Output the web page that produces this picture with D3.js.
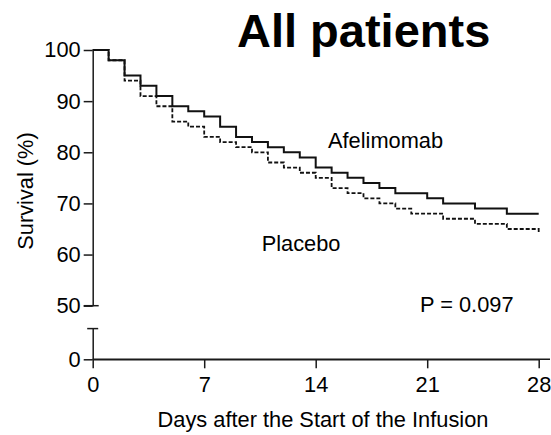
<!DOCTYPE html>
<html>
<head>
<meta charset="utf-8">
<script src="https://cdn.jsdelivr.net/npm/d3@7"></script>
<style>
  html, body { margin: 0; padding: 0; background: #fff; }
  svg { display: block; }
  text { font-family: "Liberation Sans", Arial, Helvetica, sans-serif; fill: #000; }
</style>
</head>
<body>
<svg id="chart" width="551" height="435"></svg>
<script>
// ---- data ----
const title = "All patients";
const xLabel = "Days after the Start of the Infusion";
const yLabel = "Survival (%)";
const xTicks = [0, 7, 14, 21, 28];
const yTicksUpper = [50, 60, 70, 80, 90, 100];
const yTicksLower = [0];

// Kaplan-Meier step data (day, survival %)
const afelimomabDays = [0, 1, 2, 3, 4, 5, 6, 7, 8, 9, 10, 11, 12, 13, 14, 15, 16, 17, 18, 19, 21, 22, 24, 26, 28];
const afelimomabSurv = [100, 98, 95, 93, 91, 89, 88, 87, 85, 83, 82, 81, 80, 79, 77, 76, 75, 74, 73, 72, 71, 70, 69, 68, 68];

const placeboDays = [0, 1, 2, 3, 4, 5, 6, 7, 8, 9, 10, 11, 12, 13, 14, 15, 16, 17, 18, 19, 20, 22, 24, 26, 28];
const placeboSurv = [100, 98, 94, 91, 89, 86, 85, 83, 82, 81, 80, 78, 77, 76, 75, 73, 72, 71, 70, 69, 68, 67, 66, 65, 64];

const seriesNames = ["Afelimomab", "Placebo"];
const pValueText = "P = 0.097";

// ---- layout ----
const svg = d3.select("#chart");
const font = 21.8;

const x = d3.scaleLinear().domain([0, 28]).range([92.7, 538.7]);
const yU = d3.scaleLinear().domain([50, 100]).range([305.7, 50]);
const yL = d3.scaleLinear().domain([0, 6]).range([359.3, 328.6]);

const axisColor = "#1a1a1a";
const axisW = 1.5;
const fmt = d3.format("d");

// upper y axis
const gU = svg.append("g").attr("transform", `translate(${x(0)},0)`)
  .call(d3.axisLeft(yU).tickValues(yTicksUpper).tickFormat(fmt).tickSize(9).tickSizeOuter(0).tickPadding(3));
// lower y axis
const gL = svg.append("g").attr("transform", `translate(${x(0)},0)`)
  .call(d3.axisLeft(yL).tickValues(yTicksLower).tickFormat(fmt).tickSize(9).tickSizeOuter(0).tickPadding(3));
// x axis
const gX = svg.append("g").attr("transform", `translate(0,${yL(0)})`)
  .call(d3.axisBottom(x).tickValues(xTicks).tickFormat(fmt).tickSize(9).tickSizeOuter(0).tickPadding(5));

[gU, gL, gX].forEach(g => {
  g.selectAll("path.domain").attr("stroke", axisColor).attr("stroke-width", axisW);
  g.selectAll(".tick line").attr("stroke", axisColor).attr("stroke-width", axisW);
  g.selectAll(".tick text").style("font-size", font + "px")
    .style("font-family", '"Liberation Sans", Arial, sans-serif').attr("fill", "#000");
});
gX.selectAll(".tick text").attr("dy", "0.85em");

// extend x axis line to the right edge
svg.append("line")
  .attr("x1", x(0)).attr("x2", 550)
  .attr("y1", yL(0)).attr("y2", yL(0))
  .attr("stroke", axisColor).attr("stroke-width", axisW);

// axis-break caps
svg.append("line")
  .attr("x1", x(0) - 9).attr("x2", x(0) + 6)
  .attr("y1", yU(50)).attr("y2", yU(50))
  .attr("stroke", axisColor).attr("stroke-width", axisW);
svg.append("line")
  .attr("x1", x(0) - 5.5).attr("x2", x(0) + 5.5)
  .attr("y1", yL(6)).attr("y2", yL(6))
  .attr("stroke", axisColor).attr("stroke-width", axisW);

// curves
const line = d3.line().curve(d3.curveStepAfter)
  .x(d => x(d[0])).y(d => yU(d[1]));

const afData = afelimomabDays.map((d, i) => [d, afelimomabSurv[i]]);
const plData = placeboDays.map((d, i) => [d, placeboSurv[i]]);

svg.append("path").datum(plData)
  .attr("d", line).attr("fill", "none")
  .attr("stroke", "#111").attr("stroke-width", 1.8)
  .attr("stroke-dasharray", "4,2");

svg.append("path").datum(afData)
  .attr("d", line).attr("fill", "none")
  .attr("stroke", "#111").attr("stroke-width", 2);

// title
svg.append("text")
  .attr("x", 237).attr("y", 46.5)
  .style("font-size", "47px").style("font-weight", "bold")
  .text(title);

// axis labels
svg.append("text")
  .attr("transform", `translate(33,191) rotate(-90)`)
  .attr("text-anchor", "middle")
  .style("font-size", font + "px")
  .text(yLabel);

svg.append("text")
  .attr("x", 323).attr("y", 426.5)
  .attr("text-anchor", "middle")
  .style("font-size", font + "px")
  .text(xLabel);

// series labels
svg.append("text").attr("x", 328).attr("y", 148.3)
  .style("font-size", font + "px").text(seriesNames[0]);
svg.append("text").attr("x", 261.7).attr("y", 251)
  .style("font-size", font + "px").text(seriesNames[1]);
svg.append("text").attr("x", 420).attr("y", 311.7)
  .style("font-size", font + "px").text(pValueText);
</script>
</body>
</html>
